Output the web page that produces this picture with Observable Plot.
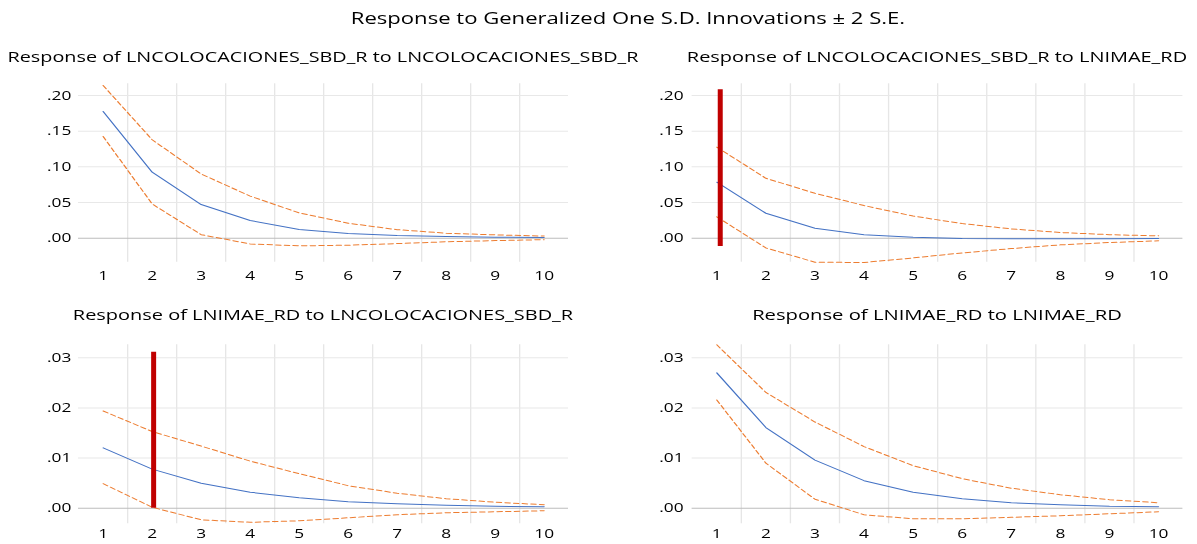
<!DOCTYPE html>
<html><head><meta charset="utf-8">
<script src="https://cdn.jsdelivr.net/npm/d3@7"></script>
<script src="https://cdn.jsdelivr.net/npm/@observablehq/plot@0.6"></script>
<style>
html,body{margin:0;padding:0;background:#fff;overflow:hidden;}
#stage{position:relative;height:544px;transform-origin:0 0;font-family:"Open Sans",sans-serif;}
.ttl{position:absolute;width:700px;text-align:center;font-size:15px;line-height:15px;white-space:nowrap;color:#000;}
.panel{position:absolute;}
</style></head><body><div id="stage"></div>
<script>
// ---- data ----
const periods = [1,2,3,4,5,6,7,8,9,10];
const mainTitle = "Response to Generalized One S.D. Innovations \u00b1 2 S.E.";
const panelTitles = [
  "Response of LNCOLOCACIONES_SBD_R to LNCOLOCACIONES_SBD_R",
  "Response of LNCOLOCACIONES_SBD_R to LNIMAE_RD",
  "Response of LNIMAE_RD to LNCOLOCACIONES_SBD_R",
  "Response of LNIMAE_RD to LNIMAE_RD"
];
const topTicks = [0, 0.05, 0.10, 0.15, 0.20];
const bottomTicks = [0, 0.01, 0.02, 0.03];

const p1Resp  = [0.1776, 0.0925, 0.0472, 0.0248, 0.0121, 0.0065, 0.0037, 0.0023, 0.0014, 0.0009];
const p1Upper = [0.214, 0.138, 0.090, 0.059, 0.0355, 0.021, 0.012, 0.007, 0.0047, 0.003];
const p1Lower = [0.1425, 0.048, 0.005, -0.008, -0.0107, -0.0098, -0.0075, -0.005, -0.0033, -0.002];

const p2Resp  = [0.0785, 0.035, 0.014, 0.005, 0.0014, -0.0004, -0.0008, -0.0008, -0.0006, -0.0005];
const p2Upper = [0.1276, 0.084, 0.063, 0.0458, 0.031, 0.0206, 0.013, 0.008, 0.005, 0.0033];
const p2Lower = [0.030, -0.0136, -0.0336, -0.034, -0.0276, -0.0206, -0.0145, -0.0093, -0.006, -0.0037];

const p3Resp  = [0.01204, 0.0078, 0.0050, 0.0032, 0.0021, 0.0013, 0.0009, 0.0006, 0.0004, 0.0003];
const p3Upper = [0.0194, 0.0153, 0.0124, 0.0094, 0.0069, 0.0045, 0.003, 0.0019, 0.0012, 0.0007];
const p3Lower = [0.0049, 0.0002, -0.0023, -0.0028, -0.0025, -0.0019, -0.0013, -0.0009, -0.0007, -0.0005];

const p4Resp  = [0.0270, 0.0161, 0.0096, 0.0055, 0.0032, 0.0019, 0.0011, 0.0007, 0.0004, 0.0003];
const p4Upper = [0.0326, 0.0231, 0.0172, 0.0123, 0.0085, 0.0059, 0.004, 0.0027, 0.0017, 0.0011];
const p4Lower = [0.0216, 0.009, 0.0018, -0.0013, -0.0021, -0.0021, -0.0018, -0.0015, -0.0011, -0.0007];

// red highlight bars drawn over panels 2 and 3
const marker2 = [{x: 1.07, y1: -0.0117, y2: 0.208}];
const marker3 = [{x: 2.03, y1: 0, y2: 0.0311}];

// ---- layout ----
const S = 1.33;            // horizontal stretch of the whole picture
const W = 1197 / S;        // unstretched stage width
const half = W / 2;
const fmt = v => d3.format(".2f")(v).replace(/^0/, "").replace(/^-0/, "-");

const stage = document.getElementById("stage");
stage.style.width = W + "px";
stage.style.transform = `scaleX(${S})`;

function addTitle(text, cx, baseline, size) {
  const d = document.createElement("div");
  d.className = "ttl";
  d.textContent = text;
  d.style.fontSize = size + "px";
  d.style.lineHeight = size + "px";
  d.style.left = (cx - 350) + "px";
  d.style.top = (baseline - 0.888 * size) + "px";
  stage.appendChild(d);
}

function panel(cfg) {
  const rows = periods.map((p, i) => ({period: p, resp: cfg.resp[i], upper: cfg.upper[i], lower: cfg.lower[i]}));
  const gridX = periods.slice(1).map(p => p - 0.5);
  const marks = [
    Plot.ruleX(gridX, {stroke: "#e6e6e6", strokeWidth: 1}),
    Plot.ruleY(cfg.ticks.filter(v => v !== 0), {stroke: "#e8e8e8", strokeWidth: 1}),
    Plot.ruleY([0], {stroke: "#bdbdbd", strokeWidth: 1}),
    Plot.line(rows, {x: "period", y: "upper", stroke: "#ed7d31", strokeWidth: 1, strokeDasharray: "4,2.5"}),
    Plot.line(rows, {x: "period", y: "lower", stroke: "#ed7d31", strokeWidth: 1, strokeDasharray: "4,2.5"}),
    Plot.line(rows, {x: "period", y: "resp", stroke: "#4472c4", strokeWidth: 1})
  ];
  if (cfg.marker) marks.push(Plot.ruleX(cfg.marker, {x: "x", y1: "y1", y2: "y2", stroke: "#c00000", strokeWidth: 5 / S}));
  marks.push(Plot.axisX({ticks: periods, tickSize: 0, tickPadding: cfg.xPad, tickFormat: d => String(d), label: null}));
  marks.push(Plot.axisY({ticks: cfg.ticks, tickSize: 0, tickPadding: cfg.yPad, tickFormat: fmt, label: null}));
  const svg = Plot.plot({
    width: half, height: cfg.height,
    marginLeft: cfg.ml, marginRight: cfg.mr, marginTop: cfg.mt, marginBottom: cfg.mb,
    x: {domain: [0.5, 10.5]},
    y: {domain: cfg.yDomain},
    style: {fontFamily: '"Open Sans", sans-serif', fontSize: "13px", color: "#000", background: "transparent", overflow: "visible"},
    marks
  });
  const wrap = document.createElement("div");
  wrap.className = "panel";
  wrap.style.left = cfg.left + "px";
  wrap.style.top = cfg.top + "px";
  wrap.appendChild(svg);
  stage.appendChild(wrap);
  addTitle(cfg.title, cfg.left + cfg.ml + (half - cfg.ml - cfg.mr) / 2, cfg.titleBase, cfg.titleSize || 15);
}

const leftML = 78 / S, leftMR = half - 568 / S;
const rightML = 691.6 / S - half, rightMR = W - 1182.4 / S;
const topDomain = [-0.0336, 0.2164];
const botDomain = [-0.0031, 0.0326];

addTitle(mainTitle, 628 / S, 25, 16.6);

panel({title: panelTitles[0], titleBase: 62, titleSize: 14.9, resp: p1Resp, upper: p1Upper, lower: p1Lower,
  ticks: topTicks, yDomain: topDomain, left: 0, top: 70, height: 220, mt: 13.3, mb: 28.3,
  ml: leftML, mr: leftMR, xPad: 8.6, yPad: 5.5});
panel({title: panelTitles[1], titleBase: 62, resp: p2Resp, upper: p2Upper, lower: p2Lower, marker: marker2,
  ticks: topTicks, yDomain: topDomain, left: half, top: 70, height: 220, mt: 13.3, mb: 28.3,
  ml: rightML, mr: rightMR, xPad: 8.6, yPad: 6.5});
panel({title: panelTitles[2], titleBase: 320, resp: p3Resp, upper: p3Upper, lower: p3Lower, marker: marker3,
  ticks: bottomTicks, yDomain: botDomain, left: 0, top: 330, height: 214, mt: 14.3, mb: 20.7,
  ml: leftML, mr: leftMR, xPad: 5.2, yPad: 5.5});
panel({title: panelTitles[3], titleBase: 320, titleSize: 15.2, resp: p4Resp, upper: p4Upper, lower: p4Lower,
  ticks: bottomTicks, yDomain: botDomain, left: half, top: 330, height: 214, mt: 14.3, mb: 20.7,
  ml: rightML, mr: rightMR, xPad: 5.2, yPad: 6.5});
</script></body></html>
